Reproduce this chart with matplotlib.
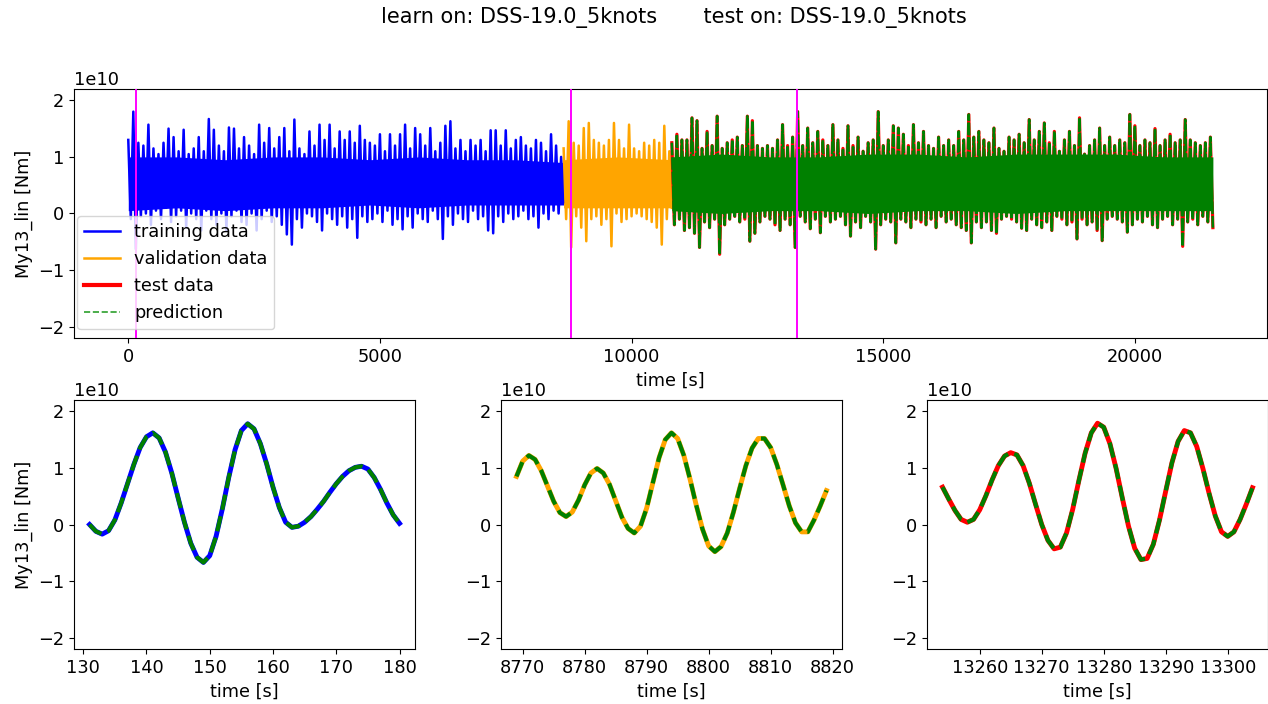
import numpy as np
import matplotlib
matplotlib.use("Agg")
import matplotlib.pyplot as plt
from matplotlib.lines import Line2D

plt.rcParams["font.size"] = 12.8

SCALE = 1e10  # signal values below are in units of 1e10 Nm
STEP = 100  # s between successive upper peaks in the overview signal

# overview: alternating upper / lower peaks (upper at t, lower at t + STEP/2)
train_start = 0
train_upper = [1.30, 1.80, 1.25, 1.20, 1.57, 1.15, 1.05, 1.25, 1.50, 1.35,
               1.10, 1.48, 1.05, 1.15, 1.35, 1.10, 1.67, 1.48, 1.20, 1.10,
               1.52, 1.50, 1.15, 1.35, 1.20, 1.05, 1.57, 1.25, 1.51, 1.15,
               1.35, 1.51, 1.10, 1.66, 1.15, 1.05, 1.45, 1.20, 1.57, 1.30,
               1.57, 1.15, 1.45, 1.30, 1.45, 1.25, 1.55, 1.30, 1.25, 1.20,
               1.40, 1.10, 1.40, 1.20, 1.40, 1.57, 1.15, 1.51, 1.40, 1.20,
               1.51, 1.10, 1.25, 1.55, 1.63, 1.15, 1.30, 1.10, 1.30, 1.20,
               1.30, 1.10, 1.47, 1.47, 1.20, 1.47, 1.15, 1.30, 1.35, 1.20,
               1.15, 1.30, 1.25, 1.10, 1.40, 1.20, 1.00]
train_lower = [-0.10, -0.63, -0.05, 0.00, -0.20, 0.05, -0.10, 0.10, -0.15, -0.05,
               0.05, -0.25, 0.00, -0.10, -0.30, 0.05, -0.10, -0.20, 0.00, -0.30,
               -0.05, 0.05, -0.15, -0.20, 0.00, -0.30, -0.10, 0.05, -0.15, -0.05,
               -0.20, -0.37, -0.55, -0.10, -0.25, 0.00, -0.05, -0.15, -0.30, 0.00,
               -0.10, -0.20, -0.05, -0.25, -0.10, -0.43, -0.05, -0.15, -0.10, 0.00,
               -0.15, 0.05, -0.20, -0.10, -0.28, -0.05, -0.25, 0.00, -0.10, -0.15,
               0.05, -0.10, -0.45, -0.05, -0.20, 0.00, -0.10, -0.15, 0.05, -0.10,
               -0.05, -0.30, -0.35, -0.05, -0.15, 0.00, -0.10, -0.05, 0.05, -0.10,
               -0.05, -0.25, 0.00, -0.10, 0.05, 0.00, 0.20]
# dense core of the signal, evenly spread over each segment
train_core_upper = [1.00, 1.00, 0.95, 1.00, 1.00, 0.95, 1.00, 0.95, 0.95, 0.90]
train_core_lower = [0.05, 0.10, 0.05, 0.10, 0.10, 0.15, 0.10, 0.15, 0.15, 0.15]

val_start = 8650
val_upper = [1.15, 1.63, 1.25, 1.20, 1.51, 1.60, 1.30, 1.25, 1.20, 1.30,
             1.60, 1.30, 1.15, 1.57, 1.15, 1.10, 1.25, 1.20, 1.30, 1.25,
             1.55, 1.10]
val_lower = [-0.10, -0.60, -0.05, -0.25, -0.49, -0.10, -0.05, -0.20, -0.10, -0.58,
             0.00, -0.15, -0.10, -0.05, 0.00, -0.05, -0.10, -0.15, -0.25, -0.55,
             -0.10, 0.10]
val_core_upper = [0.95, 1.00, 0.95]
val_core_lower = [0.10, 0.10, 0.10]

test_start = 10800
test_upper = [1.25, 1.40, 1.30, 1.30, 1.69, 1.64, 1.15, 1.45, 1.20, 1.72,
              1.15, 1.25, 1.30, 1.35, 1.20, 1.72, 1.64, 1.20, 1.15, 1.20,
              1.15, 1.30, 1.57, 1.20, 1.35, 1.80, 1.20, 1.51, 1.25, 1.45,
              1.30, 1.20, 1.57, 1.30, 1.15, 1.55, 1.20, 1.35, 1.10, 1.25,
              1.30, 1.80, 1.20, 1.30, 1.55, 1.51, 1.40, 1.20, 1.57, 1.25,
              1.45, 1.20, 1.15, 1.35, 1.20, 1.30, 1.20, 1.45, 1.30, 1.75,
              1.35, 1.45, 1.30, 1.25, 1.51, 1.15, 1.10, 1.35, 1.30, 1.40,
              1.25, 1.66, 1.30, 1.45, 1.60, 1.25, 1.45, 1.10, 1.30, 1.45,
              1.20, 1.69, 1.05, 1.20, 1.30, 1.51, 1.20, 1.35, 1.20, 1.30,
              1.25, 1.75, 1.55, 1.20, 1.30, 1.25, 1.50, 1.20, 1.30, 1.40,
              1.25, 1.30, 1.66, 1.30, 1.25, 1.20, 1.25, 1.35]
test_lower = [-0.20, -0.10, -0.30, -0.25, -0.35, -0.60, -0.15, -0.25, -0.10, -0.72,
              -0.20, -0.10, -0.05, -0.15, -0.10, -0.49, -0.35, -0.15, -0.05, -0.10,
              -0.20, -0.30, -0.10, -0.20, -0.60, -0.05, -0.15, -0.27, -0.10, -0.34,
              -0.05, -0.15, -0.10, -0.05, -0.20, -0.40, -0.15, -0.25, -0.05, -0.15,
              -0.63, -0.20, -0.10, -0.15, -0.52, -0.10, -0.15, -0.25, -0.10, -0.15,
              -0.20, -0.10, -0.25, -0.05, -0.15, -0.10, -0.20, -0.25, -0.30, -0.52,
              -0.15, -0.25, -0.15, -0.30, -0.35, -0.10, -0.05, -0.10, -0.15, -0.26,
              -0.30, -0.10, -0.20, -0.25, -0.15, -0.30, -0.05, -0.10, -0.20, -0.15,
              -0.45, -0.10, -0.20, -0.15, -0.30, -0.48, -0.10, -0.05, -0.10, -0.15,
              -0.33, -0.20, -0.10, -0.15, -0.05, -0.20, -0.25, -0.10, -0.05, -0.20,
              -0.10, -0.58, -0.15, -0.10, -0.20, -0.05, -0.15, -0.25]
test_core_upper = [1.00, 1.05, 1.00, 1.00, 1.05, 1.05, 1.00, 1.05, 1.05, 1.05, 1.00, 1.00]
test_core_lower = [0.05, 0.00, 0.05, 0.05, 0.00, 0.05, 0.05, 0.00, 0.05, 0.05, 0.05, 0.05]

# zoom windows (1 s sampling)
zoom1_start = 131
zoom1 = [0.00, -0.12, -0.17, -0.11, 0.08, 0.38, 0.72, 1.06, 1.36, 1.55,
         1.62, 1.53, 1.28, 0.91, 0.47, 0.04, -0.33, -0.58, -0.67, -0.55,
         -0.21, 0.28, 0.83, 1.32, 1.66, 1.78, 1.69, 1.43, 1.07, 0.66,
         0.30, 0.04, -0.05, -0.03, 0.04, 0.14, 0.27, 0.41, 0.57, 0.72,
         0.85, 0.95, 1.01, 1.03, 0.98, 0.83, 0.62, 0.38, 0.17, 0.02]

zoom2_start = 8769
zoom2 = [0.85, 1.12, 1.22, 1.15, 0.95, 0.68, 0.41, 0.21, 0.14, 0.22,
         0.43, 0.70, 0.91, 0.99, 0.91, 0.71, 0.42, 0.13, -0.07, -0.15,
         -0.03, 0.29, 0.74, 1.18, 1.50, 1.62, 1.52, 1.22, 0.80, 0.34,
         -0.08, -0.38, -0.48, -0.39, -0.15, 0.22, 0.64, 1.04, 1.35, 1.52,
         1.52, 1.36, 1.06, 0.70, 0.33, 0.03, -0.13, -0.13, 0.08, 0.33,
         0.60]

zoom3_start = 13254
zoom3 = [0.66, 0.45, 0.25, 0.09, 0.04, 0.09, 0.26, 0.51, 0.79, 1.04,
         1.21, 1.27, 1.23, 1.04, 0.73, 0.36, 0.00, -0.28, -0.43, -0.40,
         -0.15, 0.27, 0.78, 1.26, 1.62, 1.79, 1.72, 1.43, 0.99, 0.47,
         -0.03, -0.42, -0.62, -0.60, -0.35, 0.08, 0.59, 1.09, 1.47, 1.66,
         1.62, 1.38, 0.99, 0.55, 0.15, -0.13, -0.21, -0.13, 0.09, 0.36,
         0.65]

zoom_colors = ["blue", "orange", "red"]
title = "learn on: DSS-19.0_5knots       test on: DSS-19.0_5knots"


def peaks_to_line(start, upper, lower):
    """Interleave upper and lower peaks into one time series."""
    t_up = start + STEP * np.arange(len(upper))
    t = np.column_stack([t_up, t_up + STEP / 2]).ravel()
    y = np.column_stack([upper, lower]).ravel() * SCALE
    return t, y


def core_band(ax, t, core_upper, core_lower, color, zorder):
    tc = np.linspace(t[0], t[-1], len(core_upper))
    ax.fill_between(tc, np.array(core_lower) * SCALE, np.array(core_upper) * SCALE,
                    color=color, linewidth=0, zorder=zorder)


def window(start, values):
    t = start + np.arange(len(values))
    return t, np.array(values) * SCALE


fig = plt.figure(figsize=(12.68, 7.04), dpi=100)
fig.suptitle(title, x=0.5315, y=0.99, fontsize=15)

ax = fig.add_axes([0.0584, 0.5199, 0.9409, 0.3537])
t, y = peaks_to_line(train_start, train_upper, train_lower)
core_band(ax, t, train_core_upper, train_core_lower, "blue", 1)
ax.plot(t, y, color="blue", linewidth=1.8)
t, y = peaks_to_line(val_start, val_upper, val_lower)
core_band(ax, t, val_core_upper, val_core_lower, "orange", 1)
ax.plot(t, y, color="orange", linewidth=1.8)
t, y = peaks_to_line(test_start, test_upper, test_lower)
ax.plot(t, y, color="red", linewidth=2.3, zorder=2)
core_band(ax, t, test_core_upper, test_core_lower, "green", 2.1)
ax.plot(t, y, color="green", linewidth=1.8, linestyle=(0, (5, 0.8)), zorder=2.2)

windows = [(zoom1_start, zoom1), (zoom2_start, zoom2), (zoom3_start, zoom3)]
for start, vals in windows:
    ax.axvline(start + (len(vals) - 1) / 2, color="magenta", linewidth=1.4, zorder=3)

ax.set_ylim(-2.2 * SCALE, 2.2 * SCALE)
ax.set_xlabel("time [s]")
ax.set_ylabel("My13_lin [Nm]")
handles = [
    Line2D([], [], color="blue", linewidth=1.8),
    Line2D([], [], color="orange", linewidth=1.8),
    Line2D([], [], color="red", linewidth=3),
    Line2D([], [], color="tab:green", linewidth=1.2, linestyle="--"),
]
leg = ax.legend(handles, ["training data", "validation data", "test data", "prediction"],
                loc="lower left", bbox_to_anchor=(0.0025, 0.035), borderaxespad=0)
leg.set_zorder(5)

lefts = [0.0584, 0.3951, 0.7311]
for ii, (start, vals) in enumerate(windows):
    bx = fig.add_axes([lefts[ii], 0.0781, 0.2689, 0.3537])
    t, y = window(start, vals)
    bx.plot(t, y, color=zoom_colors[ii], linewidth=3.5)
    bx.plot(t, y, color="green", linewidth=3, linestyle="--")
    bx.set_ylim(-2.2 * SCALE, 2.2 * SCALE)
    bx.set_xlabel("time [s]")
    if ii == 0:
        bx.set_ylabel("My13_lin [Nm]")

fig.savefig("out.png", dpi=100)
